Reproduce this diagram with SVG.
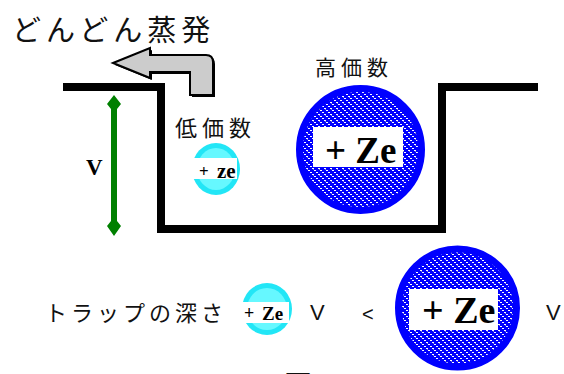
<svg xmlns="http://www.w3.org/2000/svg" width="564" height="374" viewBox="0 0 564 374">
<style>
.jp{font-family:"Noto Sans CJK JP","Noto Sans",sans-serif;fill:#111}
.ze{font-family:"Liberation Serif","Times New Roman",serif;font-weight:bold;fill:#000}
.sans{font-family:"Liberation Sans",Arial,sans-serif;fill:#111}
.big{fill:url(#hatch);stroke:#0000ff;stroke-width:7}
.cy1{fill:#22e6f6}
.cy2{fill:#66f8ff}
.box{fill:#fff}
</style>
<defs>
<pattern id="hatch" width="6" height="6" patternUnits="userSpaceOnUse">
<rect width="6" height="6" fill="#0000ff"/>
<rect x="0" y="0" width="2" height="1" fill="#fff"/>
<rect x="2" y="2" width="2" height="1" fill="#fff"/>
<rect x="4" y="4" width="2" height="1" fill="#fff"/>
<rect x="1" y="1" width="1" height="1" fill="#8080c0"/>
</pattern>
</defs>
<rect width="564" height="374" fill="#fff"/>

<g id="title">
<text class="jp" x="12" y="41" font-size="29" letter-spacing="5">どんどん蒸発</text>
</g>

<g id="trap">
<path d="M63,87 H161 V229 H442 V87 H538" fill="none" stroke="#000" stroke-width="8" stroke-linejoin="miter"/>
</g>

<g id="connectors">
<g id="evap-arrow">
<path d="M115,65 L152,50 L152,57 L208,57 Q215,57 215,64 L215,97 L192,97 L192,74 L152,74 L152,80 Z" fill="#000"/>
<path d="M113,63 L150,48 L150,55 L206,55 Q213,55 213,62 L213,95 L190,95 L190,72 L150,72 L150,78 Z" fill="#cccccc" stroke="#000" stroke-width="2" stroke-linejoin="miter"/>
</g>
<g id="depth-arrow">
<polygon points="114,95 121,104 117,109 117,221 121,226 114,236 107,226 111,221 111,109 107,104" fill="#008000"/>
</g>
</g>

<g id="v-label">
<text class="ze" x="86" y="175" font-size="23">V</text>
</g>

<g id="low-label">
<text class="jp" x="175" y="136" font-size="22" letter-spacing="5">低価数</text>
</g>

<g id="low-ion">
<ellipse class="cy1" cx="216" cy="169" rx="24" ry="26"/>
<ellipse class="cy2" cx="216" cy="169" rx="19" ry="21"/>
<rect class="box" x="190" y="158" width="47" height="21"/>
<text class="ze" x="199" y="177" font-size="17" font-weight="normal">+</text>
<text class="ze" x="217" y="178" font-size="21">ze</text>
</g>

<g id="high-label">
<text class="jp" x="315" y="75" font-size="21" letter-spacing="5">高価数</text>
</g>

<g id="high-ion">
<circle class="big" cx="360.5" cy="149.5" r="61"/>
<rect class="box" x="313" y="127" width="90" height="40"/>
<text class="ze" x="325" y="163" font-size="37">+ Ze</text>
</g>

<g id="bottom-row">
<text class="jp" x="45" y="321" font-size="22" letter-spacing="4">トラップの深さ</text>
<g id="low-ion-2">
<ellipse class="cy1" cx="267" cy="309" rx="25" ry="26"/>
<ellipse class="cy2" cx="267" cy="309" rx="20" ry="21"/>
<rect class="box" x="242" y="302" width="47" height="21"/>
<text class="ze" x="244" y="319" font-size="18">+</text>
<text class="ze" x="262" y="320" font-size="19">Ze</text>
</g>
<text class="sans" x="310" y="320" font-size="22">V</text>
<text class="sans" x="362" y="321" font-size="20">&lt;</text>
<g id="high-ion-2">
<circle class="big" cx="457.5" cy="308" r="59"/>
<rect class="box" x="409" y="289" width="89" height="41"/>
<text class="ze" x="422" y="323" font-size="38">+ Ze</text>
</g>
<text class="sans" x="546" y="320" font-size="22">V</text>
</g>

<g id="caption">
<text class="jp" x="284" y="396" font-size="28">図２</text>
</g>
</svg>
